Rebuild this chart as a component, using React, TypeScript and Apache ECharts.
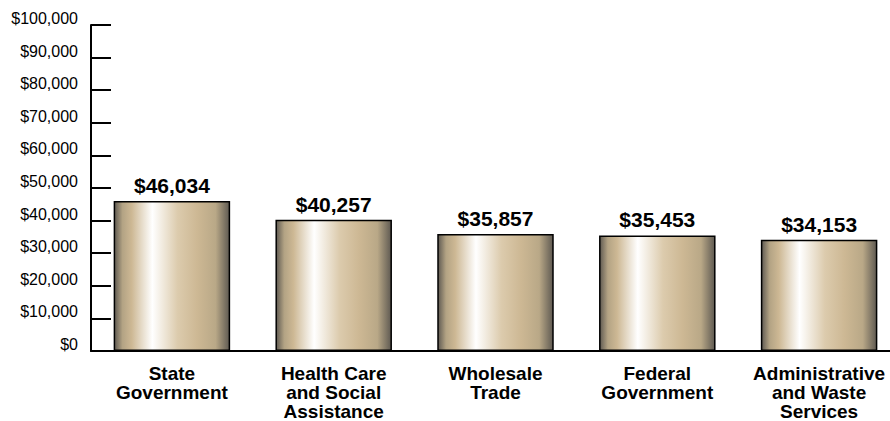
import React, { useEffect, useRef } from "react";
import * as echarts from "echarts";

const categories = [
  "State\nGovernment",
  "Health Care\nand Social\nAssistance",
  "Wholesale\nTrade",
  "Federal\nGovernment",
  "Administrative\nand Waste\nServices",
];
const wages = [46034, 40257, 35857, 35453, 34153];
const yMin = 0;
const yMax = 100000;
const yInterval = 10000;

const fmt = (v: number) => "$" + v.toLocaleString("en-US");

export default function App() {
  const ref = useRef<HTMLDivElement>(null);
  useEffect(() => {
    if (!ref.current) return;
    const chart = echarts.init(ref.current, null, { renderer: "svg" });
    const barFill = new echarts.graphic.LinearGradient(0, 0, 1, 0, [
      { offset: 0, color: "#5f5a52" },
      { offset: 0.07, color: "#b3a384" },
      { offset: 0.15, color: "#cdb894" },
      { offset: 0.33, color: "#ffffff" },
      { offset: 0.55, color: "#dccbad" },
      { offset: 0.72, color: "#cdb894" },
      { offset: 0.88, color: "#b9a887" },
      { offset: 1, color: "#5f5a52" },
    ]);
    chart.setOption({
      animation: false,
      textStyle: { fontFamily: "Liberation Sans, Arial, sans-serif", color: "#000" },
      grid: { left: 91, right: 0, top: 25, bottom: 68, containLabel: false },
      xAxis: {
        type: "category",
        data: categories,
        boundaryGap: true,
        axisLine: { lineStyle: { color: "#000", width: 2 } },
        axisTick: { inside: true, length: 7, lineStyle: { color: "#000", width: 2 } },
        axisLabel: {
          interval: 0,
          margin: 13,
          fontSize: 19,
          fontWeight: "bold",
          lineHeight: 19,
          color: "#000",
          fontFamily: "Liberation Sans, Arial, sans-serif",
        },
      },
      yAxis: {
        type: "value",
        min: yMin,
        max: yMax,
        interval: yInterval,
        splitLine: { show: false },
        axisLine: { show: true, lineStyle: { color: "#000", width: 2 } },
        axisTick: { show: true, inside: true, length: 20, lineStyle: { color: "#000", width: 2 } },
        axisLabel: {
          margin: 13,
          fontSize: 16,
          color: "#000",
          verticalAlign: "bottom",
          lineHeight: 13,
          fontFamily: "Liberation Sans, Arial, sans-serif",
          formatter: (v: number) => fmt(v),
        },
      },
      series: [
        {
          type: "bar",
          data: wages,
          barWidth: "72%",
          itemStyle: { color: barFill, borderColor: "#000", borderWidth: 1.5 },
          label: {
            show: true,
            position: "top",
            distance: 5,
            fontSize: 21,
            fontWeight: "bold",
            color: "#000",
            fontFamily: "Liberation Sans, Arial, sans-serif",
            formatter: (p: any) => fmt(p.value),
          },
        },
      ],
    });
    return () => chart.dispose();
  }, []);
  return (
    <div
      ref={ref}
      style={{ position: "fixed", left: 0, top: 0, width: 900, height: 421, background: "#fff" }}
    />
  );
}
